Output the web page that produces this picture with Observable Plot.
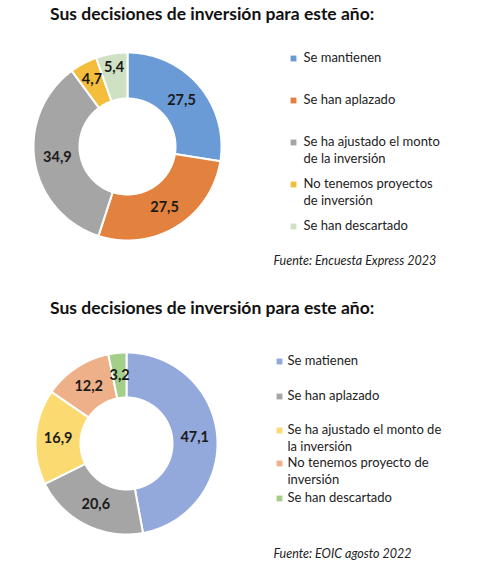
<!DOCTYPE html>
<html>
<head>
<meta charset="utf-8">
<script src="https://cdn.jsdelivr.net/npm/d3@7"></script>
<script src="https://cdn.jsdelivr.net/npm/@observablehq/plot@0.6"></script>
<style>
  html, body { margin: 0; padding: 0; background: #fff; }
  #page { position: relative; width: 489px; height: 575px; overflow: hidden; font-family: Lato, "Open Sans", sans-serif; }
  .title { position: absolute; left: 50px; font-weight: bold; font-size: 17.5px; color: #111; white-space: nowrap; }
  .chart { position: absolute; left: 0; }
</style>
</head>
<body>
<div id="page"></div>
<script>
// ---- Data ----
const title1 = "Sus decisiones de inversión para este año:";
const categories1 = ["Se mantienen", "Se han aplazado", "Se ha ajustado el monto\nde la inversión", "No tenemos proyectos\nde inversión", "Se han descartado"];
const values1 = [27.5, 27.5, 34.9, 4.7, 5.4];
const colors1 = ["#6B9BD6", "#E2823E", "#A5A5A5", "#F5BD3C", "#CFE0C3"];
const source1 = "Fuente: Encuesta Express 2023";

const title2 = "Sus decisiones de inversión para este año:";
const categories2 = ["Se matienen", "Se han aplazado", "Se ha ajustado el monto de\nla inversión", "No tenemos proyecto de\ninversión", "Se han descartado"];
const values2 = [47.1, 20.6, 16.9, 12.2, 3.2];
const colors2 = ["#93A9DB", "#A5A5A5", "#FCDA72", "#EDB089", "#A3CF8A"];
const source2 = "Fuente: EOIC agosto 2022";

const page = document.getElementById("page");

function fmt(v) { return v.toFixed(1).replace(".", ","); }

function donut({title, categories, values, colors, source, top, titleTop, H, cx, cy, rOut, rIn, legX, legYs, textDx, lineH, capX, capY, labelShift = {}}) {
  const t = document.createElement("div");
  t.className = "title";
  t.style.top = titleTop + "px";
  t.textContent = title;
  page.appendChild(t);

  const pie = d3.pie().sort(null).value(d => d)(values);
  const pts = [];
  pie.forEach((p, i) => {
    const n = Math.max(4, Math.ceil((p.endAngle - p.startAngle) / 0.01));
    const start = pts.length;
    for (let k = 0; k <= n; k++) {
      const a = p.startAngle + (p.endAngle - p.startAngle) * k / n;
      pts.push({i, x: cx + rOut * Math.sin(a), y: cy - rOut * Math.cos(a)});
    }
    for (let k = n; k >= 0; k--) {
      const a = p.startAngle + (p.endAngle - p.startAngle) * k / n;
      pts.push({i, x: cx + rIn * Math.sin(a), y: cy - rIn * Math.cos(a)});
    }
    pts.push({i, x: pts[start].x, y: pts[start].y});
  });
  const labels = pie.map((p, i) => {
    const a = (p.startAngle + p.endAngle) / 2;
    const r = (rOut + rIn) / 2 + (labelShift[i] || 0);
    return {text: fmt(values[i]), x: cx + r * Math.sin(a), y: cy - r * Math.cos(a)};
  });
  const legend = categories.map((c, i) => ({c, i, x: legX, y: legYs[i]}));

  const svg = Plot.plot({
    width: 489, height: H,
    margin: 0,
    x: {domain: [0, 489], range: [0, 489], axis: null},
    y: {domain: [0, H], range: [0, H], axis: null},
    color: {domain: d3.range(values.length), range: colors},
    style: {fontFamily: "Lato, 'Open Sans', sans-serif", background: "transparent"},
    marks: [
      Plot.line(pts, {x: "x", y: "y", z: "i", fill: d => d.i, stroke: "white", strokeWidth: 2, curve: "linear"}),
      Plot.text(labels, {x: "x", y: "y", text: "text", fontWeight: "bold", fontSize: 14.5, fill: "#1a1a1a"}),
      Plot.dot(legend, {x: "x", y: "y", fill: d => d.i, symbol: "square", r: 3.3}),
      Plot.text(legend, {x: d => d.x + textDx, y: "y", text: "c", textAnchor: "start", lineAnchor: "top", dy: -lineH / 2, lineHeight: lineH / 13, fontSize: 13, fill: "#222"}),
      Plot.text([source], {x: capX, y: capY, text: d => d, textAnchor: "start", fontStyle: "italic", fontSize: 12.5, fill: "#222"})
    ]
  });
  svg.classList.add("chart");
  svg.style.top = top + "px";
  page.appendChild(svg);
}

donut({title: title1, categories: categories1, values: values1, colors: colors1, source: source1,
  top: 30, titleTop: 3, H: 245, cx: 127, cy: 116, rOut: 94, rIn: 48,
  legX: 293, legYs: [28, 70, 112, 154, 196], textDx: 10, lineH: 17, capX: 273, capY: 230,
  labelShift: {3: 5, 4: 9}});

donut({title: title2, categories: categories2, values: values2, colors: colors2, source: source2,
  top: 330, titleTop: 297, H: 245, cx: 126, cy: 113, rOut: 91, rIn: 46,
  legX: 279, legYs: [31, 66, 100, 133, 168], textDx: 8, lineH: 17, capX: 273, capY: 223});
</script>
</body>
</html>
